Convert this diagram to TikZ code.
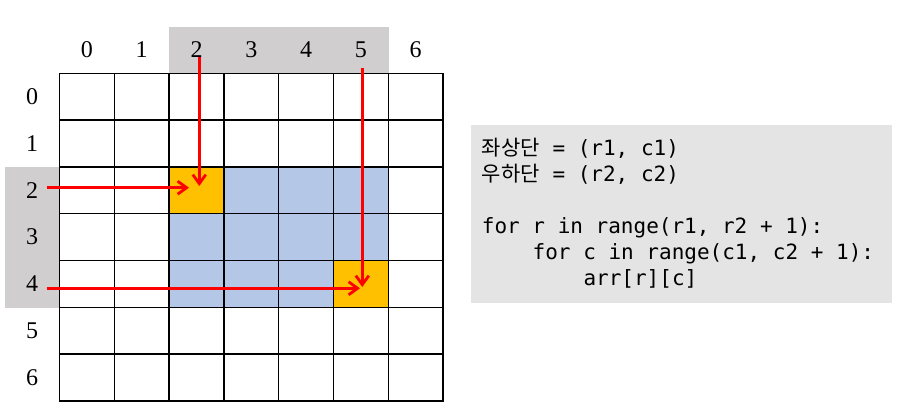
\documentclass[tikz,border=0pt]{standalone}
\usepackage{fontspec}
\newfontfamily\codefont{DejaVu Sans Mono}
\newfontfamily\krfont{Noto Sans CJK KR}
\newfontfamily\axfont{Liberation Serif}
\usetikzlibrary{arrows.meta}
\definecolor{hdrgray}{HTML}{D0CECE}
\definecolor{selblue}{HTML}{B4C7E7}
\definecolor{cornerorange}{HTML}{FFC000}
\definecolor{codegray}{HTML}{E4E4E4}
\definecolor{arrowred}{HTML}{FF0000}
\tikzset{
  cell/.style={draw=black, line width=1.5pt, minimum width=54.8pt, minimum height=46.8pt, inner sep=0pt, outer sep=0pt},
  axlabel/.style={font=\axfont\fontsize{24}{26}\selectfont, inner sep=0pt},
  codeline/.style={anchor=base west, inner sep=0pt, font=\codefont\fontsize{21}{24}\selectfont},
  redarrow/.style={draw=arrowred, line width=2.8pt, -{Straight Barb[length=9pt,width=13pt,line width=2.8pt]}},
}
\begin{document}
\begin{tikzpicture}[x=1pt,y=-1pt]
\useasboundingbox (0,0) rectangle (899,410);
% header highlight bands
\fill[hdrgray] (169.3,27) rectangle (388.7,73.3);
\fill[hdrgray] (5,166.7) rectangle (59.5,307.7);
% cells
\foreach \r in {0,...,6}{
  \foreach \c in {0,...,6}{
    \pgfmathsetmacro{\cx}{59.5+54.8*\c+27.4}
    \pgfmathsetmacro{\cy}{73.3+46.8*\r+23.4}
    \pgfmathtruncatemacro{\insel}{(\r>=2)&&(\r<=4)&&(\c>=2)&&(\c<=5)}
    \pgfmathtruncatemacro{\iscorner}{((\r==2)&&(\c==2))||((\r==4)&&(\c==5))}
    \ifnum\iscorner=1
      \node[cell, fill=cornerorange] (cell-\r-\c) at (\cx,\cy) {};
    \else\ifnum\insel=1
      \node[cell, fill=selblue] (cell-\r-\c) at (\cx,\cy) {};
    \else
      \node[cell, fill=white] (cell-\r-\c) at (\cx,\cy) {};
    \fi\fi
  }
}
% column labels
\foreach \c in {0,...,6}{
  \node[axlabel] (col-\c) at (59.5+54.8*\c+27.4,50) {\c};
}
% row labels
\foreach \r in {0,...,6}{
  \node[axlabel] (row-\r) at (32,73.3+46.8*\r+23.4) {\r};
}
% arrow anchor coordinates
\coordinate (s-col2) at (199.3,57);
\coordinate (e-col2) at (199.3,186);
\coordinate (s-col5) at (362.3,68);
\coordinate (e-col5) at (362.3,287);
\coordinate (s-row2) at (46.7,187.7);
\coordinate (e-row2) at (189,187.7);
\coordinate (s-row4) at (46.7,288.3);
\coordinate (e-row4) at (360,288.3);
\draw[redarrow] (s-col2) -- (e-col2);
\draw[redarrow] (s-col5) -- (e-col5);
\draw[redarrow] (s-row2) -- (e-row2);
\draw[redarrow] (s-row4) -- (e-row4);
% code box
\node[fill=codegray, minimum width=420.7pt, minimum height=177.7pt, inner sep=0pt] (codebox) at (681.35,213.85) {};
\node[codeline] (line1) at (481.7,155) {{\krfont 좌상단} = (r1, c1)};
\node[codeline] (line2) at (481.7,181) {{\krfont 우하단} = (r2, c2)};
\node[codeline] (line3) at (481.7,233) {for r in range(r1, r2 + 1):};
\node[codeline] (line4) at (532.5,259) {for c in range(c1, c2 + 1):};
\node[codeline] (line5) at (583.3,285) {arr[r][c]};
\end{tikzpicture}
\end{document}
